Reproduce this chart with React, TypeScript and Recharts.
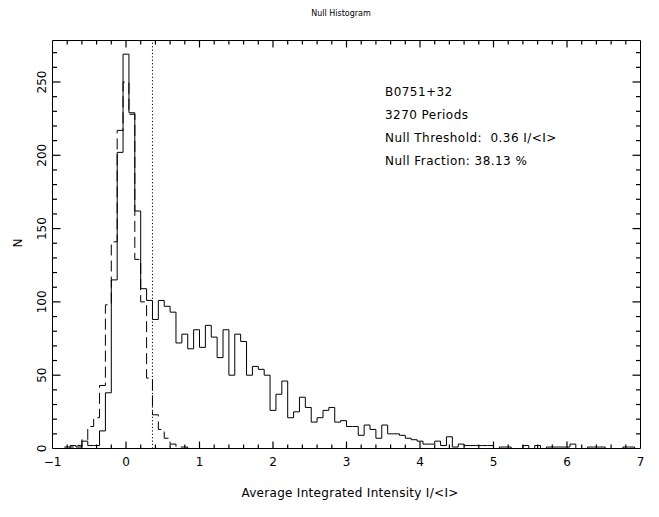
import React from "react";
import { ComposedChart, Line, XAxis, YAxis, ReferenceLine } from "recharts";

const FONT = "'DejaVu Sans', Verdana, sans-serif";

// histogram bins are 0.08 wide, the first one centred on -0.80
const binWidth = 0.08;
const firstBinCentre = -0.8;

// all periods (solid)
const onPulseCounts = [
  1, 2, 1, 5, 2, 2, 12, 38, 115, 202,
  269, 229, 162, 109, 101, 88, 101, 97, 93, 72,
  78, 68, 81, 69, 84, 76, 62, 81, 50, 78,
  73, 50, 56, 54, 50, 26, 37, 46, 21, 25,
  35, 28, 18, 21, 26, 28, 18, 19, 15, 15,
  9, 16, 13, 7, 16, 10, 10, 9, 7, 6,
  5, 3, 3, 5, 2, 8, 1, 3, 2, 2,
  2, 2, 2, 0, 1, 1, 0, 0, 2, 0,
  2, 0, 1, 1, 1, 1, 3, 0, 0, 1,
  1, 1, 0, 0, 0, 1, 1, 0,
];

// off-pulse window (dashed), same bins from -0.80
const offPulseCounts = [
  0, 1, 2, 6, 15, 21, 43, 98, 141, 217,
  250, 228, 129, 100, 48, 23, 13, 7, 3, 1,
  1, 0,
];

const nullThreshold = 0.36;

const xMajorTicks = [-1, 0, 1, 2, 3, 4, 5, 6, 7];
const xTickLabels = ["\u22121", "0", "1", "2", "3", "4", "5", "6", "7"];
const yMajorTicks = [0, 50, 100, 150, 200, 250];
const yTickLabels = ["0", "50", "100", "150", "200", "250"];

const infoLines = [
  "B0751+32",
  "3270 Periods",
  "Null Threshold:  0.36 I/<I>",
  "Null Fraction: 38.13 %",
];

const xMinorTicks = Array.from({ length: 41 }, (_, i) => +(-1 + i * 0.2).toFixed(1));
const yMinorTicks = Array.from({ length: 28 }, (_, i) => i * 10);

// one row per bin left edge, plus the closing right edge
const histData = Array.from({ length: onPulseCounts.length + 1 }, (_, i) => {
  const edge = firstBinCentre - binWidth / 2 + i * binWidth;
  return {
    edge: +edge.toFixed(3),
    on: onPulseCounts[Math.min(i, onPulseCounts.length - 1)],
    off: i < offPulseCounts.length ? offPulseCounts[i] : null,
  };
});

const W = 659;
const H = 517;
const X_MIN = -1;
const X_MAX = 7;
const Y_MAX = 278.3;
// plot box: x 52.5..640.5, y 40.5..448.5 (axes take part of the space)
const margin = { top: 30.5, right: 8.5, bottom: 38.5, left: 32.5 };
const BOX = { left: 52.5, right: 640.5, top: 40.5, bottom: 448.5 };

// same linear mapping as the axes, for the tick marks in the overlay
const sx = (v: number) => BOX.left + ((v - X_MIN) / (X_MAX - X_MIN)) * (BOX.right - BOX.left);
const sy = (v: number) => BOX.bottom - (v / Y_MAX) * (BOX.bottom - BOX.top);

const textStyle = { fontFamily: FONT, fontSize: 12, fill: "#000" };

function BottomLabel(props: any) {
  const { x, y, payload } = props;
  const idx = xMajorTicks.indexOf(payload.value);
  if (idx < 0) return <g />;
  return (
    <text x={x} y={y + 17} textAnchor="middle" style={textStyle}>
      {xTickLabels[idx]}
    </text>
  );
}

function LeftLabel(props: any) {
  const { x, y, payload } = props;
  const idx = yMajorTicks.indexOf(payload.value);
  if (idx < 0) return <g />;
  return (
    <text
      transform={`translate(${x - 6.5}, ${y}) rotate(-90)`}
      textAnchor="middle"
      style={textStyle}
    >
      {yTickLabels[idx]}
    </text>
  );
}

// inward tick marks on all four sides of the box, as thin filled bars
function BoxTicks() {
  const marks: React.ReactNode[] = [];
  const t = 1.2;
  xMinorTicks.forEach((v) => {
    if (v === X_MIN || v === X_MAX) return;
    const len = xMajorTicks.includes(v) ? 7 : 4;
    const px = sx(v) - t / 2;
    marks.push(<rect key={`b${v}`} x={px} y={BOX.bottom - len} width={t} height={len} />);
    marks.push(<rect key={`t${v}`} x={px} y={BOX.top} width={t} height={len} />);
  });
  yMinorTicks.forEach((v) => {
    if (v === 0) return;
    const len = yMajorTicks.includes(v) ? 8 : 4.5;
    const py = sy(v) - t / 2;
    marks.push(<rect key={`l${v}`} x={BOX.left} y={py} width={len} height={t} />);
    marks.push(<rect key={`r${v}`} x={BOX.right - len} y={py} width={len} height={t} />);
  });
  return <g fill="#000">{marks}</g>;
}

const axisShared = {
  type: "number" as const,
  interval: 0 as const,
  tickSize: 0,
  tickMargin: 0,
  tickLine: false,
  axisLine: { stroke: "#000", strokeWidth: 1 },
  allowDataOverflow: true,
};

export default function App() {
  return (
    <div style={{ position: "absolute", left: 0, top: 0, width: W, height: H, background: "#fff" }}>
      <ComposedChart width={W} height={H} data={histData} margin={margin}>
        <XAxis
          {...axisShared}
          dataKey="edge"
          domain={[X_MIN, X_MAX]}
          ticks={xMinorTicks}
          height={30}
          tick={(p: any) => <BottomLabel {...p} />}
        />
        <XAxis
          {...axisShared}
          xAxisId="top"
          dataKey="edge"
          orientation="top"
          domain={[X_MIN, X_MAX]}
          height={10}
          tick={false}
        />
        <YAxis
          {...axisShared}
          domain={[0, Y_MAX]}
          ticks={yMinorTicks}
          width={20}
          tick={(p: any) => <LeftLabel {...p} />}
        />
        <YAxis
          {...axisShared}
          yAxisId="right"
          dataKey="on"
          orientation="right"
          domain={[0, Y_MAX]}
          width={10}
          tick={false}
        />
        <ReferenceLine x={nullThreshold} stroke="#000" strokeDasharray="1.2 2.2" />
        <Line
          type="stepAfter"
          dataKey="off"
          stroke="#000"
          strokeWidth={1}
          strokeDasharray="11 5"
          dot={false}
          activeDot={false}
          connectNulls={false}
          isAnimationActive={false}
        />
        <Line
          type="stepAfter"
          dataKey="on"
          stroke="#000"
          strokeWidth={1}
          dot={false}
          activeDot={false}
          isAnimationActive={false}
        />
      </ComposedChart>
      <svg
        width={W}
        height={H}
        style={{ position: "absolute", left: 0, top: 0, pointerEvents: "none" }}
      >
        <BoxTicks />
        <text x={341} y={16} textAnchor="middle" style={{ ...textStyle, fontSize: 8 }}>
          Null Histogram
        </text>
        <text x={350} y={497} textAnchor="middle" style={{ ...textStyle, letterSpacing: 0.3 }}>
          Average Integrated Intensity I/&lt;I&gt;
        </text>
        <text transform="translate(22, 243) rotate(-90)" textAnchor="middle" style={textStyle}>
          N
        </text>
        {infoLines.map((line, i) => (
          <text
            key={line}
            x={385}
            y={96 + i * 22.9}
            style={{ ...textStyle, whiteSpace: "pre", letterSpacing: 0.45 }}
          >
            {line}
          </text>
        ))}
      </svg>
    </div>
  );
}
